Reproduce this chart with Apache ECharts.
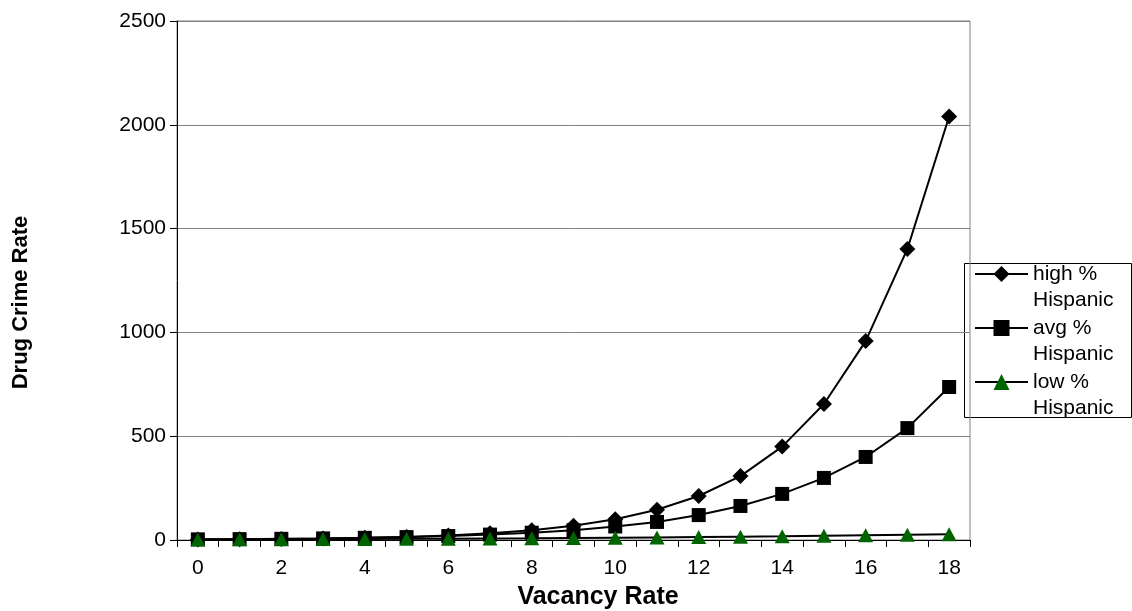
<!DOCTYPE html>
<html>
<head>
<meta charset="utf-8">
<script src="https://cdn.jsdelivr.net/npm/echarts@6/dist/echarts.min.js"></script>
<style>
html,body{margin:0;padding:0;background:#fff;}
#chart{width:1132px;height:611px;}
</style>
</head>
<body>
<div id="chart"></div>
<script>
const categories = ['0','1','2','3','4','5','6','7','8','9','10','11','12','13','14','15','16','17','18'];
const highHispanic = [2.3, 3.4, 5, 7.2, 10.5, 15, 22, 32, 47, 69, 100, 146, 212, 308, 450, 655, 958, 1402, 2040];
const avgHispanic = [3.1, 4.2, 5.7, 7.7, 10.5, 14, 19, 26, 35, 47, 65, 87, 120, 164, 222, 299, 400, 539, 737];
const lowHispanic = [3, 3.5, 4, 4.5, 5, 5.7, 6.5, 7.4, 8.4, 9.6, 11, 12.5, 14, 16, 18, 20.5, 23, 25.5, 28];
const seriesNames = ['high %\nHispanic', 'avg %\nHispanic', 'low %\nHispanic'];

const FONT = "'Liberation Sans', Arial, sans-serif";
const LH = 26;

const chart = echarts.init(document.getElementById('chart'));
chart.setOption({
  backgroundColor: '#fff',
  animation: false,
  textStyle: { fontFamily: FONT, color: '#000' },
  grid: { left: 177, right: 162, top: 21, bottom: 71, show: true, borderColor: '#808080', borderWidth: 1, outerBoundsMode: 'none', containLabel: false },
  legend: {
    orient: 'vertical',
    left: 974,
    top: 235,
    padding: 0,
    itemWidth: 53,
    itemHeight: 20,
    itemGap: 54 - 3 * LH,
    formatter: function (n) { return '\n' + n; },
    textStyle: { fontFamily: FONT, fontSize: 21, color: '#000', lineHeight: LH },
    data: seriesNames
  },
  graphic: [{
    type: 'rect', left: 964, top: 263, z: -1,
    shape: { width: 167, height: 154 },
    style: { fill: '#fff', stroke: '#000', lineWidth: 1 }
  }],
  xAxis: {
    type: 'category',
    data: categories,
    boundaryGap: true,
    name: 'Vacancy Rate',
    nameLocation: 'middle',
    nameGap: 45,
    nameTextStyle: { fontFamily: FONT, fontSize: 25, fontWeight: 'bold', color: '#000', padding: [0, 0, 0, 49] },
    axisLine: { lineStyle: { color: '#000', width: 1 } },
    axisTick: { show: true, interval: 0, length: 7, lineStyle: { color: '#000' } },
    axisLabel: { interval: 1, fontFamily: FONT, fontSize: 21, color: '#000', margin: 18 },
    splitLine: { show: false }
  },
  yAxis: {
    type: 'value',
    min: 0, max: 2500, interval: 500,
    name: 'Drug Crime Rate',
    nameLocation: 'middle',
    nameRotate: 90,
    nameGap: 145,
    nameTextStyle: { fontFamily: FONT, fontSize: 22, fontWeight: 'bold', color: '#000', padding: [0, 44, 0, 0] },
    axisLine: { show: true, lineStyle: { color: '#000', width: 1 } },
    axisTick: { show: true, length: 7, lineStyle: { color: '#000' } },
    axisLabel: { fontFamily: FONT, fontSize: 21, color: '#000', margin: 11, formatter: function (v) { return String(v); } },
    splitLine: { show: true, lineStyle: { color: '#808080', width: 1 } }
  },
  series: [
    {
      name: seriesNames[0], type: 'line', data: highHispanic,
      symbol: 'diamond', symbolSize: [16, 16],
      lineStyle: { color: '#000', width: 2 },
      itemStyle: { color: '#000' }
    },
    {
      name: seriesNames[1], type: 'line', data: avgHispanic,
      symbol: 'rect', symbolSize: [14, 14],
      lineStyle: { color: '#000', width: 2 },
      itemStyle: { color: '#000' }
    },
    {
      name: seriesNames[2], type: 'line', data: lowHispanic,
      symbol: 'triangle', symbolSize: [15, 14],
      lineStyle: { color: '#000', width: 2 },
      itemStyle: { color: '#006400' }
    }
  ]
});
</script>
</body>
</html>
